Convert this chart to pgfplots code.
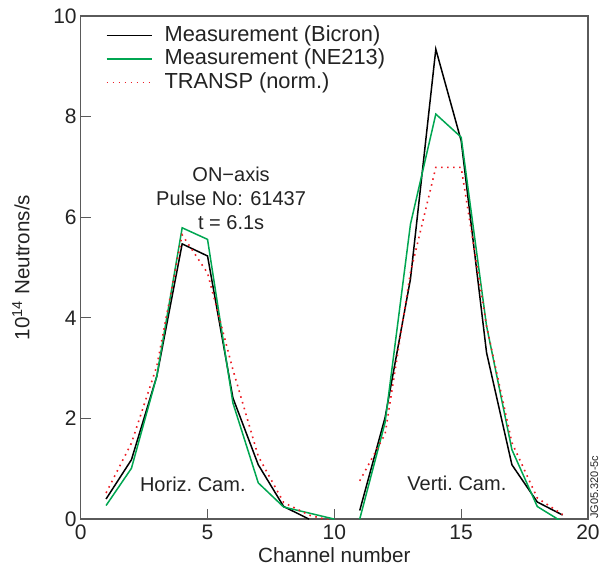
\documentclass[border=0pt]{standalone}
\usepackage{pgfplots}
\pgfplotsset{compat=1.18}
\usepackage{fontspec}
\setmainfont{Liberation Sans}
\definecolor{mgreen}{RGB}{0,166,81}
\definecolor{mred}{RGB}{237,28,36}
\definecolor{axgray}{RGB}{90,90,90}
\definecolor{txt}{RGB}{35,35,35}
\begin{document}
\begin{tikzpicture}
\begin{axis}[
  name=ax,
  scale only axis,
  width=253.6pt, height=251.5pt,
  xmin=0, xmax=20, ymin=0, ymax=10,
  xtick={0,5,10,15,20}, ytick={0,2,4,6,8,10},
  xtick pos=bottom, ytick pos=left,
  tick align=inside,
  major tick length=5pt,
  axis line style={axgray, line width=0.6pt},
  tick style={axgray, line width=0.6pt},
  /pgf/number format/assume math mode=true,
  ticklabel style={font=\fontsize{10.5}{12}\selectfont, text=txt},
  yticklabel style={xshift=1.5pt},
  xticklabel style={yshift=0.5pt},
  xlabel={Channel number},
  ylabel={10\textsuperscript{14} Neutrons/s},
  label style={font=\fontsize{10.3}{12}\selectfont, text=txt},
  xlabel style={yshift=3pt},
  ylabel style={yshift=5pt},
  clip=true,
  legend cell align=left,
  legend style={draw=none, fill=none, at={(rel axis cs:0,1)}, anchor=north west,
    inner sep=0pt, outer sep=0pt,
    xshift=12.5pt, yshift=-3.9pt, row sep=0pt, column sep=5.65pt,
    font=\fontsize{10.9}{12}\selectfont, text=txt,
    nodes={text height=8.25pt, text depth=2.5pt, inner sep=0.5pt}},
  legend image code/.code={\draw[mark repeat=2,mark phase=2,#1] plot coordinates {(0pt,0pt) (11.25pt,0pt) (22.5pt,0pt)};},
]
% Bicron
\addplot[color=black, line width=0.75pt] coordinates {(1,0.40)(2,1.18)(3,2.84)(4,5.47)(5,5.23)(6,2.41)(7,1.08)(8,0.25)(9,0.0)};
\addlegendentry{Measurement (Bicron)}
% NE213
\addplot[color=mgreen, line width=0.75pt] coordinates {(1,0.27)(2,1.01)(3,2.84)(4,5.79)(5,5.56)(6,2.31)(7,0.72)(8,0.24)(9,0.12)(10,0.0)};
\addlegendentry{Measurement (NE213)}
% TRANSP
\addplot[color=mred, line width=0.8pt, dash pattern=on 0.8pt off 2.2pt] coordinates {(1,0.52)(2,1.51)(3,3.04)(4,5.65)(5,4.89)(6,2.97)(7,1.25)(8,0.33)(9,0.08)(10,-0.05)};
\addlegendentry{TRANSP (norm.)}
% vertical camera
\addplot[color=black, line width=0.75pt, forget plot] coordinates {(11,0.17)(12,2.02)(13,4.77)(14,9.34)(15,7.52)(16,3.31)(17,1.08)(18,0.34)(19,0.08)};
\addplot[color=mgreen, line width=0.75pt, forget plot] coordinates {(11,0.0)(12,1.92)(13,5.86)(14,8.05)(15,7.59)(16,3.84)(17,1.38)(18,0.25)(19,-0.06)};
\addplot[color=mred, line width=0.8pt, dash pattern=on 0.8pt off 2.2pt, forget plot] coordinates {(11,0.76)(12,1.69)(13,4.9)(14,6.99)(15,6.99)(16,3.84)(17,1.52)(18,0.42)(19,0.09)};
\node[align=center, font=\fontsize{10}{12}\selectfont, text=txt] at (axis cs:5.93,6.38) {ON−axis\\Pulse No: 61437\\t = 6.1s};
\node[font=\fontsize{10}{12}\selectfont, text=txt] at (axis cs:4.42,0.70) {Horiz.\ Cam.};
\node[font=\fontsize{10}{12}\selectfont, text=txt] at (axis cs:14.83,0.71) {Verti.\ Cam.};
\end{axis}
\node[rotate=90, anchor=north west, inner sep=0pt, font=\fontsize{5.5}{6.5}\selectfont, text=txt] at ([xshift=1pt]ax.south east) {JG05.320-5c};
\pgfresetboundingbox
\useasboundingbox ([xshift=-40.35pt,yshift=-25pt]ax.south west) rectangle ([xshift=5.5pt,yshift=8pt]ax.north east);
\end{tikzpicture}
\end{document}
